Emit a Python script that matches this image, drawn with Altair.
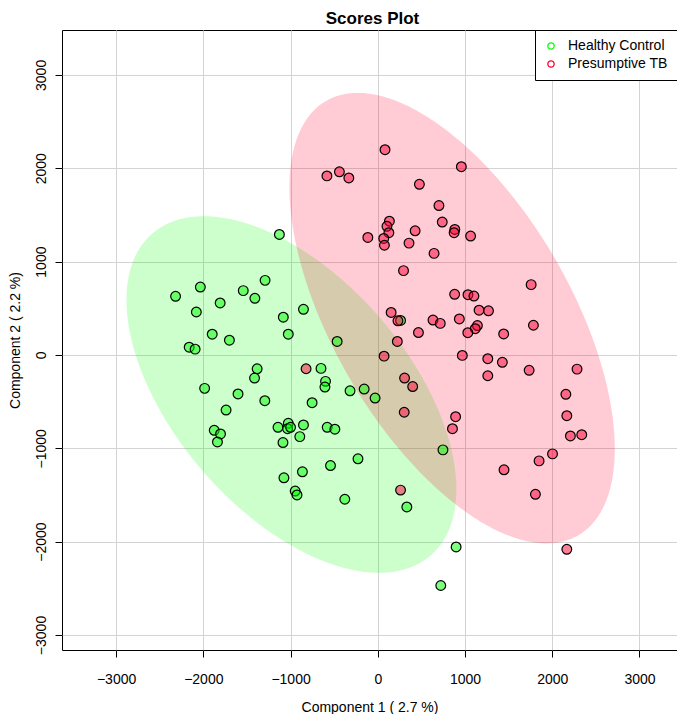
import altair as alt
import numpy as np
import pandas as pd

groups = ["Healthy Control", "Presumptive TB"]
colors = ["#00FF00", "#FF0033"]
chart_title = "Scores Plot"

hc_x = [-1128, -1292, -2034, -2318, -1542, -1409, -1807, -2080, -1083, -1026,
        -1898, -1701, -2162, -2094, -1383, -1413, -1985, -1602, -1295, -1739,
        -852, -1875, -1803, -1838, -1144, -1026, -1034, -1000, -852, -894,
        -1087, -580, -492, -753, -599, -606, -318, -156, -31, -466,
        -651, -227, -542, -864, -1076, -947, -926, -378, 333, 747,
        898, 722, 261]
hc_y = [1291, 799, 727, 628, 689, 607, 557, 460, 404, 222,
        222, 158, 83, 62, -149, -248, -358, -418, -490, -590,
        489, -807, -846, -932, -775, -732, -790, -775, -750, -875,
        -939, -775, -796, -512, -283, -344, -384, -365, -462, 144,
        -144, -1113, -1185, -1252, -1316, -1458, -1500, -1546, -1629, -1017,
        -2057, -2470, 369]

tb_x = [83, -583, -440, -332, 958, 477, 701, 739, 883, 875,
        1064, 133, 105, 127, 68, 76, -114, 428, 358, 645,
        295, 881, 1034, 1102, 1161, 1269, 153, 231, 633, 716,
        935, 1142, 1117, 1032, 466, 1443, 1784, 1758, 224, 72,
        969, 1261, 1428, 1735, 2284, 1261, -822, 307, 400, 303,
        2156, 2167, 2208, 2338, 892, 856, 2003, 1849, 1447, 1807,
        2167, 261]
tb_y = [2199, 1918, 1962, 1896, 2017, 1828, 1600, 1424, 1344, 1310,
        1274, 1433, 1378, 1310, 1248, 1175, 1259, 1330, 1198, 1088,
        903, 650, 645, 631, 479, 473, 455, 366, 374, 338,
        386, 315, 281, 238, 240, 225, 318, 753, 144, -13,
        -5, -40, -79, -165, -152, -223, -148, -248, -339, -614,
        -422, -651, -868, -854, -662, -790, -1060, -1135, -1231, -1493,
        -2082, -1448]

# confidence ellipses: centre and spread matrix
ell_cx = [-990, 852]
ell_cy = [-424, 394]
ell_sxx = [3.576e6, 3.478e6]
ell_syy = [3.648e6, 5.823e6]
ell_sxy = [-1.917e6, -2.61e6]

x_ticks = [-3000, -2000, -1000, 0, 1000, 2000, 3000]
y_ticks = [-3000, -2000, -1000, 0, 1000, 2000, 3000]
x_domain = [-3620, 3430]
y_domain = [-3161, 3481]

FONT = "Liberation Sans"
W, H = 615, 620


def ellipse_frame(i):
    a, d, b = ell_sxx[i], ell_syy[i], ell_sxy[i]
    det = a * d - b * b
    t = np.linspace(np.pi, 0, 241)
    u = np.sqrt(a) * np.cos(t)
    r = np.sqrt(np.clip(det * (a - u ** 2), 0, None))
    return pd.DataFrame({
        "x": ell_cx[i] + u,
        "y": ell_cy[i] + (b * u - r) / a,
        "y2": ell_cy[i] + (b * u + r) / a,
    })


pts = pd.DataFrame({
    "x": hc_x + tb_x,
    "y": hc_y + tb_y,
    "group": [groups[0]] * len(hc_x) + [groups[1]] * len(tb_x),
})

xs = alt.Scale(domain=x_domain, nice=False, zero=False)
ys = alt.Scale(domain=y_domain, nice=False, zero=False)

xaxis = alt.Axis(values=x_ticks, format="d", title="Component 1 ( 2.7 %)",
                 grid=True, domain=False, tickSize=7, labelPadding=26,
                 labelBaseline="alphabetic", titleY=61,
                 titleBaseline="alphabetic")
yaxis = alt.Axis(values=y_ticks, format="d", title="Component 2 ( 2.2 %)",
                 grid=True, domain=False, tickSize=7, labelAngle=270,
                 labelAlign="center", labelBaseline="alphabetic",
                 labelPadding=10, titleAngle=270, titleX=-43, titleY=H / 2,
                 titleBaseline="alphabetic", titleAlign="center")

layers = []
for i in range(2):
    layers.append(
        alt.Chart(ellipse_frame(i)).mark_area(
            color=colors[i], opacity=0.2, strokeWidth=0
        ).encode(
            x=alt.X("x:Q", scale=xs, axis=xaxis),
            y=alt.Y("y:Q", scale=ys, axis=yaxis),
            y2="y2:Q",
        )
    )

for i, g in enumerate(groups):
    layers.append(
        alt.Chart(pts[pts.group == g]).mark_circle(
            size=95, fill=colors[i], fillOpacity=0.5, opacity=1,
            stroke="black", strokeWidth=1.2, strokeOpacity=1
        ).encode(
            x=alt.X("x:Q", scale=xs, axis=xaxis),
            y=alt.Y("y:Q", scale=ys, axis=yaxis),
        )
    )

legend_layer = alt.Chart(pts).mark_point(
    filled=False, opacity=0, shape="circle"
).encode(
    x=alt.X("x:Q", scale=xs, axis=xaxis),
    y=alt.Y("y:Q", scale=ys, axis=yaxis),
    stroke=alt.Stroke("group:N",
                      scale=alt.Scale(domain=groups, range=colors),
                      legend=alt.Legend(title=None, symbolOpacity=1)),
)
layers.append(legend_layer)

title_layer = alt.Chart(pd.DataFrame({"t": [chart_title]})).mark_text(
    font=FONT, fontSize=17, fontWeight="bold", color="black",
    align="center", baseline="alphabetic"
).encode(
    text="t:N",
    x=alt.value(W / 2 + 3),
    y=alt.value(-6),
)
layers.append(title_layer)

chart = alt.layer(*layers).properties(
    width=W,
    height=H,
    padding={"left": 54, "top": 22, "right": 0, "bottom": 64},
    autosize=alt.AutoSizeParams(type="none"),
).configure_view(
    stroke="black", strokeWidth=1
).configure_axis(
    labelFont=FONT, labelFontSize=14, labelColor="black",
    titleFont=FONT, titleFontSize=14, titleFontWeight="normal",
    titleColor="black", tickColor="black", tickWidth=1,
    gridColor="#D3D3D3", gridWidth=1, labelFlush=False, labelOverlap=False,
).configure_legend(
    orient="top-right", offset=0, padding=9, strokeColor="black",
    fillColor="white", labelFont=FONT, labelFontSize=14, labelColor="black",
    symbolSize=40, symbolStrokeWidth=1.3, symbolType="circle",
    rowPadding=4, labelOffset=10, labelLimit=300, cornerRadius=0,
)

chart.save("out.html", embed_options={"renderer": "svg", "actions": False})
